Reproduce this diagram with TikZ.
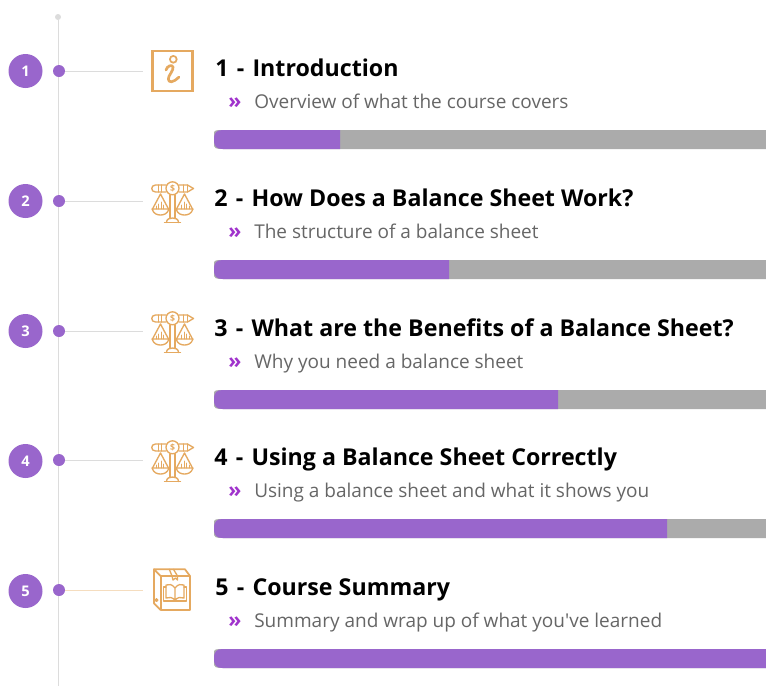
\documentclass[tikz,border=0pt]{standalone}
\usepackage{fontspec}
\setmainfont{Open Sans}
\newfontfamily\plainf{Open Sans}
\definecolor{purp}{HTML}{9966CC}
\definecolor{chev}{HTML}{A033CC}
\definecolor{barg}{HTML}{ABABAB}
\definecolor{ic}{HTML}{E5A960}
\definecolor{linec}{HTML}{DCDCDC}
\definecolor{subt}{HTML}{666666}
\newcommand{\dsh}{\kern1.7pt{} -\kern1.7pt{} }
\tikzset{
  x=0.75pt,y=-0.75pt,
  badge/.style={circle,fill=purp,minimum size=25.5pt,inner sep=0pt,text=white,font=\bfseries\fontsize{11pt}{12pt}\selectfont},
  tdot/.style={circle,fill=purp,minimum size=9pt,inner sep=0pt},
  enddot/.style={circle,fill=linec,minimum size=4.5pt,inner sep=0pt},
  title/.style={anchor=base west,inner sep=0pt,font=\bfseries\fontsize{17.4pt}{20pt}\selectfont,text=black},
  subtitle/.style={anchor=base west,inner sep=0pt,font=\fontsize{14.25pt}{16pt}\selectfont,text=subt},
  chevron/.style={anchor=base west,inner sep=0pt,font=\bfseries\fontsize{16pt}{16pt}\selectfont,text=chev},
  conn/.style={draw=linec,line width=0.75pt},
  iconline/.style={draw=ic,line width=1.3pt,line join=round,line cap=round},
  iconthin/.style={draw=ic,line width=1pt,line join=round,line cap=round},
  scalesicon/.pic={
    \draw[iconthin] (0,-12.7) circle (6.5);
    \draw[iconthin] (-6.5,-16) -- (-17,-16) .. controls (-22,-16) and (-22,-9) .. (-17,-9) -- (-6.5,-9);
    \draw[iconthin] (-14,-16) -- (-14,-9) (-11,-16) -- (-11,-9);
    \draw[iconthin] (6.5,-16) -- (15,-16) -- (21,-12.5) -- (15,-9) -- (6.5,-9);
    \draw[iconthin] (11,-16) -- (11,-9) (15,-16) -- (15,-9);
    \node[font=\bfseries\fontsize{6.5pt}{7pt}\selectfont,text=ic,inner sep=0pt] at (0,-12.7) {\$};
    \draw[iconthin] (-2.5,-6) -- (-2.5,17) (2.5,-6) -- (2.5,17);
    \draw[iconthin] (-6,21.5) .. controls (-6,18) and (-3,17) .. (0,17) .. controls (3,17) and (6,18) .. (6,21.5);
    \draw[iconthin] (-8,21.5) -- (8,21.5);
    \foreach \s in {-1,1}{
      \draw[iconthin] (\s*12,-7) -- (\s*20,8) (\s*12,-7) -- (\s*4,8);
      \draw[iconthin] (\s*20.5,8) -- (\s*3.5,8) .. controls (\s*5,13) and (\s*9,14) .. (\s*12,14) .. controls (\s*15,14) and (\s*19,13) .. (\s*20.5,8);
      \draw[iconthin,line width=0.7pt] (\s*9,8) -- (\s*9,4) (\s*11.5,8) -- (\s*11.5,1) (\s*14,8) -- (\s*14,3) (\s*16.5,8) -- (\s*16.5,5);
    }
  },
  infoicon/.pic={
    \draw[draw=ic,line width=1.8pt] (-19.5,-20) rectangle (20.5,20);
    \draw[iconline] (1.3,-11.7) circle (3.4);
    \draw[iconline,line width=2pt] (-6,-1) .. controls (-5,-5) and (0,-7) .. (1,-4) .. controls (2,-1) and (-4,5) .. (-3.7,8) .. controls (-3.5,12) and (1,12) .. (7,6);
  },
  boxicon/.pic={
    \draw[iconline] (-11.3,-14) rectangle (18,20);
    \draw[iconline] (-11.3,-14) -- (-18,-20.7) -- (13,-20.7) -- (18,-14);
    \draw[iconline] (-18,-20.7) -- (-18,13.3) -- (-11.3,20);
    \draw[iconthin] (-2.7,-20.7) -- (0,-14) -- (1,-10) -- (3.5,-12) -- (5.5,-10) -- (5.5,-14) -- (1.5,-20.7);
    \draw[iconthin] (-15.5,10) circle (1.3);
    \draw[iconthin] (3,-2) .. controls (0,-6) and (-3,-6) .. (-6,-5) -- (-6,8) .. controls (-3,7) and (0,7) .. (3,10) .. controls (6,7) and (9,7) .. (12,8) -- (12,-5) .. controls (9,-6) and (6,-6) .. (3,-2) -- (3,10);
    \draw[iconthin] (-6,-3) -- (-8.5,-3) -- (-8.5,11) -- (14.5,11) -- (14.5,-3) -- (12,-3);
  }
}
\newcommand{\bartrack}[2]{%
  \fill[barg] (214,#1+2) .. controls (214,#1+0.5) and (216,#1) .. (223,#1) -- (766,#1) -- (766,#1+19) -- (223,#1+19) .. controls (216,#1+19) and (214,#1+18) .. (214,#1+16) -- cycle;
  \fill[purp] (214,#1+9.5) .. controls (214,#1+2) and (217,#1) .. (223,#1) -- (#2,#1) -- (#2,#1+19) -- (223,#1+19) .. controls (217,#1+19) and (214,#1+17) .. (214,#1+9.5) -- cycle;}
\begin{document}
\begin{tikzpicture}
\useasboundingbox (0,0) rectangle (766,686);
\fill[white] (0,0) rectangle (766,686);
\node[enddot] (top) at (58,17) {};
\coordinate (bottom) at (58,686);
\draw[conn] (top) -- (bottom);
\node[tdot] (d1) at (59,71) {};
\node[tdot] (d2) at (59,201) {};
\node[tdot] (d3) at (59,331) {};
\node[tdot] (d4) at (59,460) {};
\node[tdot] (d5) at (59,590) {};
\node[badge] (b1) at (25.5,71) {1};
\node[badge] (b2) at (25.5,201) {2};
\node[badge] (b3) at (25.5,331) {3};
\node[badge] (b4) at (25.5,461) {4};
\node[badge] (b5) at (25.5,591) {5};
\coordinate (e1) at (143,71);
\coordinate (e2) at (143,201);
\coordinate (e3) at (143,331);
\coordinate (e4) at (143,460);
\coordinate (e5) at (143,590);
\draw[conn] (d1) -- (e1);
\draw[conn] (d2) -- (e2);
\draw[conn] (d3) -- (e3);
\draw[conn] (d4) -- (e4);
\draw[conn,draw=ic!40] (d5) -- (e5);
\pic at (172,71) {infoicon};
\pic at (172.5,201) {scalesicon};
\pic at (172.5,331) {scalesicon};
\pic at (172.5,460) {scalesicon};
\pic at (172,590) {boxicon};
\node[title] (t1) at (215,76) {1\dsh Introduction};
\node[title] (t2) at (214,206) {2\dsh How Does a Balance Sheet Work?};
\node[title] (t3) at (214,336) {3\dsh What are the Benefits of a Balance Sheet?};
\node[title] (t4) at (214,465) {4\dsh Using a Balance Sheet Correctly};
\node[title] (t5) at (215,595) {5\dsh Course Summary};
\foreach \y/\n in {108/1,238/2,368/3,497/4,627/5}{
  \node[chevron] (c\n) at (228,\y) {»};
}
\node[subtitle] (s1) at (254,108) {Overview of what the course covers};
\node[subtitle] (s2) at (254,238) {The structure of a balance sheet};
\node[subtitle] (s3) at (254,368) {Why you need a balance sheet};
\node[subtitle] (s4) at (254,497) {Using a balance sheet and what it shows you};
\node[subtitle] (s5) at (254,627) {Summary and wrap up of what you{\plainf '}ve learned};
\bartrack{130}{340}
\bartrack{260}{449}
\bartrack{390}{558}
\bartrack{519}{667}
\bartrack{649}{766}
\end{tikzpicture}
\end{document}
